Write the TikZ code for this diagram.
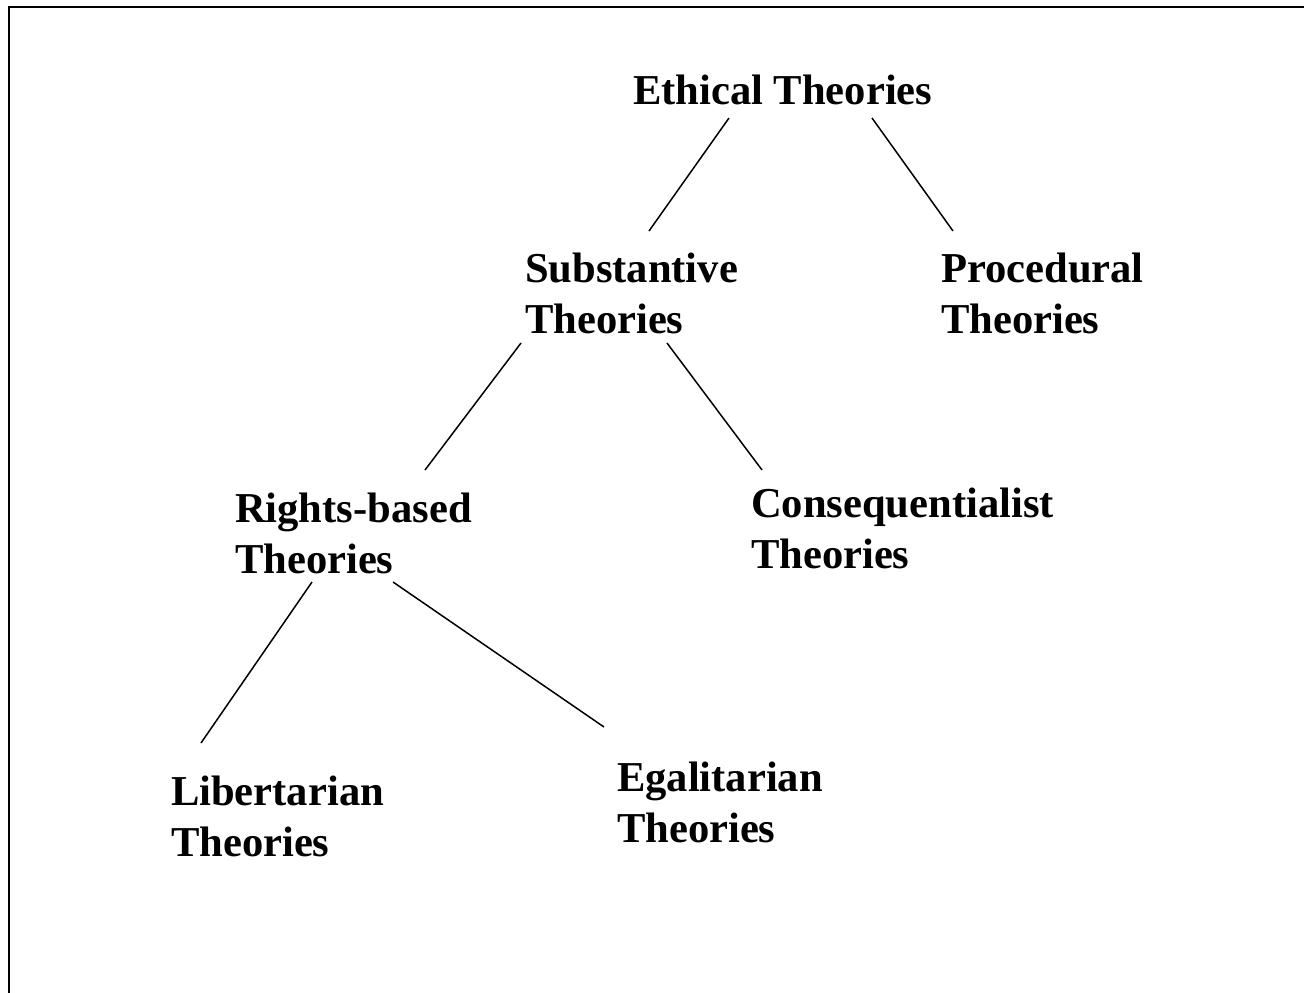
\documentclass[tikz,border=0pt]{standalone}
\usepackage{fontspec}
\setmainfont{Liberation Serif}
\begin{document}
\begin{tikzpicture}[x=1pt,y=-1pt,
  lbl/.style={anchor=base west,inner sep=0pt,outer sep=0pt,font=\fontsize{42.6}{51}\selectfont\bfseries},
  conn/.style={line width=1.5pt,black},
  frame/.style={line width=2.6pt,black}]
\useasboundingbox (0,0) rectangle (1304,993);
\draw[frame] (9,993) -- (9,7) -- (1304,7);
\node[lbl] (eth) at (633,104) {Ethical Theories};
\node[lbl] (sub) at (525,282) {\begin{tabular}[t]{@{}l@{}}Substantive\\Theories\end{tabular}};
\node[lbl] (proc) at (941,282) {\begin{tabular}[t]{@{}l@{}}Procedural\\Theories\end{tabular}};
\node[lbl] (rights) at (235,522) {\begin{tabular}[t]{@{}l@{}}Rights-based\\Theories\end{tabular}};
\node[lbl] (cons) at (751,517) {\begin{tabular}[t]{@{}l@{}}Consequentialist\\Theories\end{tabular}};
\node[lbl] (lib) at (171,805) {\begin{tabular}[t]{@{}l@{}}Libertarian\\Theories\end{tabular}};
\node[lbl] (ega) at (617,791) {\begin{tabular}[t]{@{}l@{}}Egalitarian\\Theories\end{tabular}};
\draw[conn] ([shift={(96,14)}]eth.base west) -- ([shift={(124,-51)}]sub.base west);
\draw[conn] ([shift={(239,14)}]eth.base west) -- ([shift={(12,-51)}]proc.base west);
\draw[conn] ([shift={(-4,61)}]sub.base west) -- ([shift={(190,-52)}]rights.base west);
\draw[conn] ([shift={(142,61)}]sub.base west) -- ([shift={(11,-47)}]cons.base west);
\draw[conn] ([shift={(77,60)}]rights.base west) -- ([shift={(30,-62)}]lib.base west);
\draw[conn] ([shift={(158,60)}]rights.base west) -- ([shift={(-13,-64)}]ega.base west);
\end{tikzpicture}
\end{document}
